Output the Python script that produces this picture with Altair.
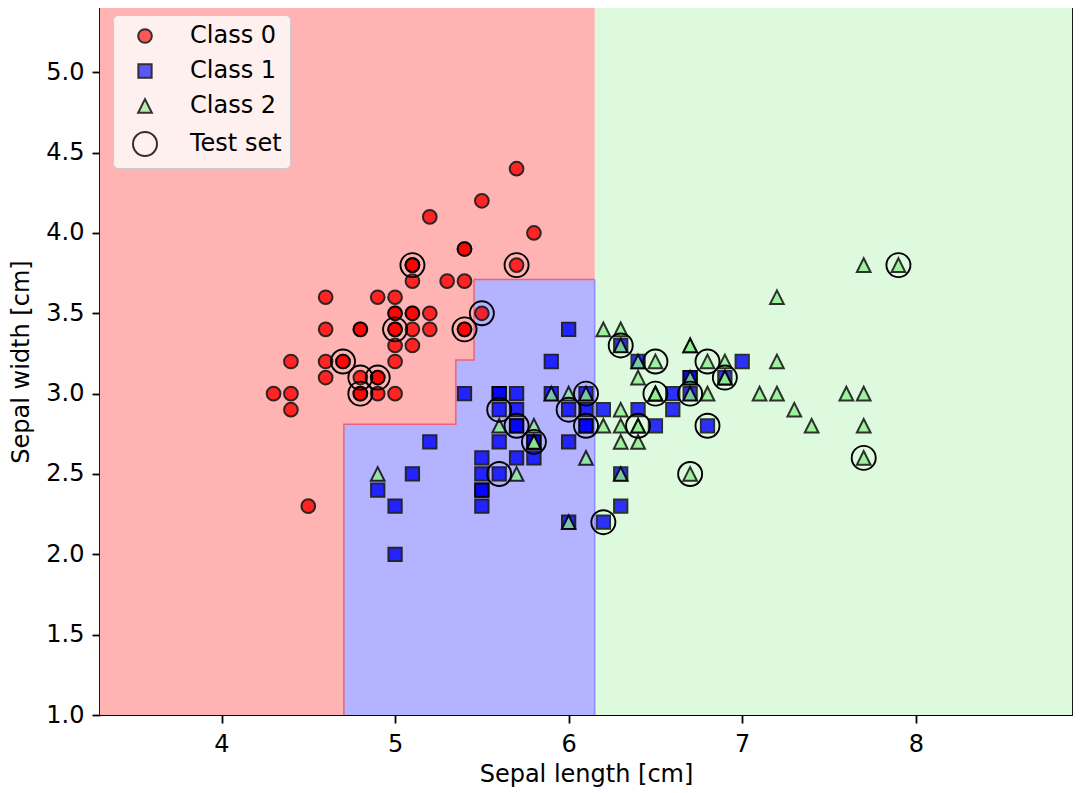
import altair as alt
import pandas as pd

# ---- data: Iris sepal length / sepal width per class ----
class0_x = [5.1,4.9,4.7,4.6,5.0,5.4,4.6,5.0,4.4,4.9,5.4,4.8,4.8,4.3,5.8,5.7,5.4,5.1,5.7,5.1,
            5.4,5.1,4.6,5.1,4.8,5.0,5.0,5.2,5.2,4.7,4.8,5.4,5.2,5.5,4.9,5.0,5.5,4.9,4.4,5.1,
            5.0,4.5,4.4,5.0,5.1,4.8,5.1,4.6,5.3,5.0]
class0_y = [3.5,3.0,3.2,3.1,3.6,3.9,3.4,3.4,2.9,3.1,3.7,3.4,3.0,3.0,4.0,4.4,3.9,3.5,3.8,3.8,
            3.4,3.7,3.6,3.3,3.4,3.0,3.4,3.5,3.4,3.2,3.1,3.4,4.1,4.2,3.1,3.2,3.5,3.6,3.0,3.4,
            3.5,2.3,3.2,3.5,3.8,3.0,3.8,3.2,3.7,3.3]
class1_x = [7.0,6.4,6.9,5.5,6.5,5.7,6.3,4.9,6.6,5.2,5.0,5.9,6.0,6.1,5.6,6.7,5.6,5.8,6.2,5.6,
            5.9,6.1,6.3,6.1,6.4,6.6,6.8,6.7,6.0,5.7,5.5,5.5,5.8,6.0,5.4,6.0,6.7,6.3,5.6,5.5,
            5.5,6.1,5.8,5.0,5.6,5.7,5.7,6.2,5.1,5.7]
class1_y = [3.2,3.2,3.1,2.3,2.8,2.8,3.3,2.4,2.9,2.7,2.0,3.0,2.2,2.9,2.9,3.1,3.0,2.7,2.2,2.5,
            3.2,2.8,2.5,2.8,2.9,3.0,2.8,3.0,2.9,2.6,2.4,2.4,2.7,2.7,3.0,3.4,3.1,2.3,3.0,2.5,
            2.6,3.0,2.6,2.3,2.7,3.0,2.9,2.9,2.5,2.8]
class2_x = [6.3,5.8,7.1,6.3,6.5,7.6,4.9,7.3,6.7,7.2,6.5,6.4,6.8,5.7,5.8,6.4,6.5,7.7,7.7,6.0,
            6.9,5.6,7.7,6.3,6.7,7.2,6.2,6.1,6.4,7.2,7.4,7.9,6.4,6.3,6.1,7.7,6.3,6.4,6.0,6.9,
            6.7,6.9,5.8,6.8,6.7,6.7,6.3,6.5,6.2,5.9]
class2_y = [3.3,2.7,3.0,2.9,3.0,3.0,2.5,2.9,2.5,3.6,3.2,2.7,3.0,2.5,2.8,3.2,3.0,3.8,2.6,2.2,
            3.2,2.8,2.8,2.7,3.3,3.2,2.8,3.0,2.8,3.0,2.8,3.8,2.8,2.8,2.6,3.0,3.4,3.1,3.0,3.1,
            3.1,3.1,2.7,3.2,3.3,3.0,2.5,3.0,3.4,3.0]

# circled test-set samples
test_x = [5.1,5.7,5.5,5.0,5.4,4.7,4.8,4.9,4.8,5.6,5.7,5.8,5.6,6.1,6.0,6.1,
          6.3,6.5,6.8,6.9,6.5,6.7,6.4,6.8,6.7,6.2,7.9,7.7]
test_y = [3.8,3.8,3.5,3.4,3.4,3.2,3.1,3.1,3.0,2.9,2.8,2.7,2.5,3.0,2.9,2.8,
          3.3,3.2,3.2,3.1,3.0,3.0,2.8,2.8,2.5,2.2,3.8,2.6]

# decision regions (class 0 underneath, class 1 and class 2 regions on top)
region_x0 = [3.3, 4.705, 5.35, 5.455, 6.15]
region_x1 = [8.9, 6.15, 6.15, 6.15, 8.9]
region_y0 = [1.0, 1.0, 1.0, 1.0, 1.0]
region_y1 = [5.4, 2.81, 3.21, 3.71, 5.4]
region_class = ["0", "1", "1", "1", "2"]

# region boundary lines
rb_x = [4.705, 4.705, 5.35, 5.35, 5.455, 5.455, 6.15]
rb_y = [1.0, 2.81, 2.81, 3.21, 3.21, 3.71, 3.71]
bg_x = [6.15, 6.15]
bg_y = [1.0, 3.71]

series_names = ["Class 0", "Class 1", "Class 2", "Test set"]
x_ticks = [4, 5, 6, 7, 8]
y_ticks = [1.0, 1.5, 2.0, 2.5, 3.0, 3.5, 4.0, 4.5, 5.0]

# ---- tables ----
points = pd.DataFrame({
    "x": class0_x + class1_x + class2_x,
    "y": class0_y + class1_y + class2_y,
    "series": [series_names[0]] * len(class0_x) + [series_names[1]] * len(class1_x)
              + [series_names[2]] * len(class2_x),
})
test = pd.DataFrame({"x": test_x, "y": test_y, "series": series_names[3]})
regions = pd.DataFrame({"x0": region_x0, "x1": region_x1, "y0": region_y0,
                        "y1": region_y1, "cls": region_class})
rb = pd.DataFrame({"x": rb_x, "y": rb_y, "o": list(range(len(rb_x)))})
bg = pd.DataFrame({"x": bg_x, "y": bg_y, "o": list(range(len(bg_x)))})

FONT = "DejaVu Sans"
FS = 24

xs = alt.Scale(domain=[3.3, 8.9], nice=False, zero=False)
ys = alt.Scale(domain=[1.0, 5.4], nice=False, zero=False)

r = 0.57
q = round(r * 0.97, 3)
circ = f"M-{r},0A{r},{r},0,1,0,{r},0A{r},{r},0,1,0,-{r},0Z"
sq = f"M-{q},-{q}L{q},-{q}L{q},{q}L-{q},{q}Z"
tri = f"M0,-{r}L-{r},{r}L{r},{r}Z"

fill_scale = alt.Scale(domain=series_names, range=["#ff0000", "#0000ff", "#90ee90", "transparent"])
shape_scale = alt.Scale(domain=series_names, range=[circ, sq, tri, "circle"])

legend = alt.Legend(
    title=None, orient="none", legendX=13, legendY=7,
    fillColor="rgba(255,255,255,0.8)", strokeColor="#cccccc", cornerRadius=5,
    padding=8, labelFont=FONT, labelFontSize=FS, labelColor="black",
    symbolStrokeWidth=2, symbolSize=576,
    rowPadding=10, symbolOffset=11, labelOffset=32,
)

region_layer = alt.Chart(regions).mark_rect(strokeWidth=0).encode(
    x=alt.X("x0:Q", scale=xs, title="Sepal length [cm]",
            axis=alt.Axis(values=x_ticks, format="d")),
    x2="x1:Q",
    y=alt.Y("y0:Q", scale=ys, title="Sepal width [cm]",
            axis=alt.Axis(values=y_ticks, format=".1f")),
    y2="y1:Q",
    color=alt.Color("cls:N", scale=alt.Scale(domain=["0", "1", "2"],
                                             range=["#ffb3b3", "#b3b3ff", "#defade"]),
                    legend=None),
)

rb_layer = alt.Chart(rb).mark_line(color="#f0607c", strokeWidth=1.5).encode(
    x=alt.X("x:Q", scale=xs), y=alt.Y("y:Q", scale=ys), order="o:Q")
bg_layer = alt.Chart(bg).mark_line(color="#8c8cff", strokeWidth=1.5).encode(
    x=alt.X("x:Q", scale=xs), y=alt.Y("y:Q", scale=ys), order="o:Q")

pts_layer = alt.Chart(points).mark_point(
    filled=True, opacity=0.8, strokeWidth=2.0, size=576
).encode(
    x=alt.X("x:Q", scale=xs),
    y=alt.Y("y:Q", scale=ys),
    fill=alt.Fill("series:N", scale=fill_scale, legend=legend),
    shape=alt.Shape("series:N", scale=shape_scale, legend=legend),
    stroke=alt.value("black"),
)

test_layer = alt.Chart(test).mark_point(
    filled=True, opacity=1, strokeWidth=1.9, size=576
).encode(
    x=alt.X("x:Q", scale=xs),
    y=alt.Y("y:Q", scale=ys),
    fill=alt.Fill("series:N", scale=fill_scale, legend=legend),
    shape=alt.Shape("series:N", scale=shape_scale, legend=legend),
    stroke=alt.value("black"),
)

chart = alt.layer(region_layer, rb_layer, bg_layer, pts_layer, test_layer).properties(
    width=972, height=707,
    autosize=alt.AutoSizeParams(type="none"),
    padding={"left": 92, "top": 0, "right": 1, "bottom": 80},
).configure_view(
    stroke="black", strokeWidth=1.8
).configure_axis(
    labelFont=FONT, labelFontSize=FS, labelColor="black",
    titleFont=FONT, titleFontSize=FS, titleFontWeight="normal", titleColor="black",
    tickColor="black", tickWidth=1.8, tickSize=8, domain=False, grid=False,
).configure_axisX(
    labelPadding=9, titlePadding=6,
).configure_axisY(
    labelPadding=8, titlePadding=12,
)

chart.save("out.html", embed_options={"renderer": "svg", "actions": False})
